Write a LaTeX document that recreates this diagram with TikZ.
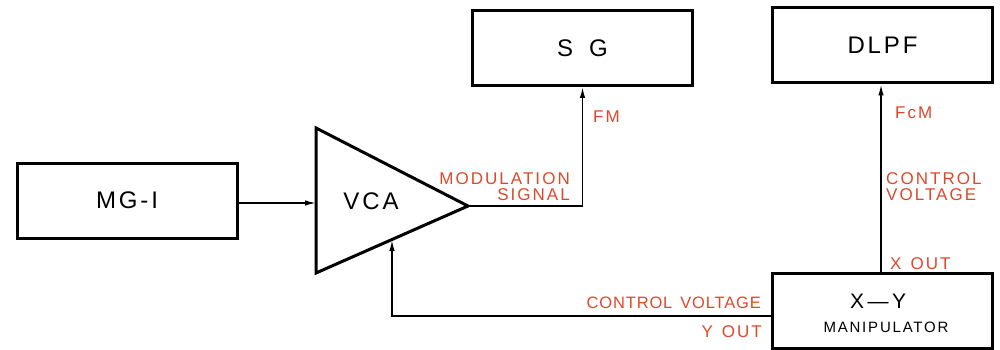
\documentclass[tikz,border=0pt]{standalone}
\usepackage{fontspec}
\setmainfont{Liberation Sans}[LetterSpace=12]
\newfontfamily\tightfont{Liberation Sans}[LetterSpace=5]
\usetikzlibrary{arrows.meta}
\definecolor{lblred}{RGB}{222,72,42}
\begin{document}
\begin{tikzpicture}[x=1pt,y=-1pt,
  blk/.style={draw,line width=3pt,minimum width=220pt,minimum height=75pt,inner sep=0pt,font=\fontsize{24}{26}\selectfont},
  wire/.style={line width=1.5pt},
  arr/.style={wire,-{Latex[length=11pt,width=5.5pt]}},
  lbl/.style={text=lblred,inner sep=0pt,font=\fontsize{17}{19}\selectfont}]
\useasboundingbox (0,0) rectangle (1000,350);
% blocks
\node[blk] (mg) at (127,200.5) {MG-I};
\node[blk] (sg) at (582.5,48) {S\hspace{16pt}G};
\node[blk] (dlpf) at (882.5,45.5) {DLPF};
\node[blk] (xy) at (882.5,310.5) {};
\node[inner sep=0pt,font=\fontsize{21}{23}\selectfont] (xyt) at (878,301) {X\,---\,Y};
\node[inner sep=0pt,font=\fontsize{15}{17}\selectfont] (man) at (886,327) {MANIPULATOR};
% VCA triangle
\coordinate (vtl) at (316,128);
\coordinate (vbl) at (316,273);
\coordinate (vout) at (468,206);
\coordinate (vin) at (316,203);
\coordinate (vbot) at (392,240);
\draw[line width=3pt,line join=miter] (vtl) -- (vout) -- (vbl) -- cycle;
\node[inner sep=0pt,font=\fontsize{24}{26}\selectfont] (vca) at (371,201) {VCA};
% connectors
\draw[arr] (mg.east |- vin) -- (vin);
\draw[arr] (vout) -| (sg.south);
\coordinate (yout) at (773,316);
\draw[arr] (yout) -| (vbot);
\draw[arr] (xy.north -| 881,0) -- (dlpf.south -| 881,0);
% labels
\node[lbl,anchor=base east] (mod) at (570,184) {MODULATION};
\node[lbl,anchor=base east] (sig) at (570,200) {SIGNAL};
\node[lbl,anchor=base west] (fm) at (593,122) {FM};
\node[lbl,anchor=base west] (fcm) at (895,118) {FcM};
\node[lbl,anchor=base west] (cv1) at (886,184) {CONTROL};
\node[lbl,anchor=base west] (cv2) at (886,200) {VOLTAGE};
\node[lbl,anchor=base west] (xo) at (890,269) {X\hspace{9pt}OUT};
\node[lbl,anchor=base east,font=\tightfont\fontsize{16.5}{19}\selectfont] (cv3) at (761,308) {CONTROL\hspace{8pt}VOLTAGE};
\node[lbl,anchor=base east] (yo) at (762,337) {Y\hspace{9pt}OUT};
\end{tikzpicture}
\end{document}
